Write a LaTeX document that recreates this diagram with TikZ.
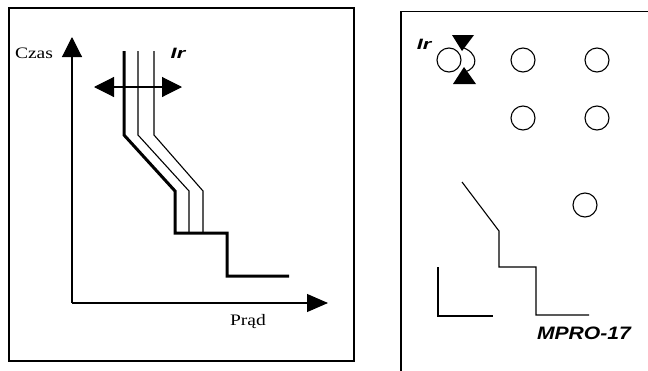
\documentclass[tikz,border=0pt]{standalone}
\usepackage{fontspec}
\setmainfont{Liberation Serif}
\newfontfamily\arialfont{Liberation Sans}
\usetikzlibrary{positioning}
\usetikzlibrary{arrows.meta}

\begin{document}
\begin{tikzpicture}[
          x=1pt, y=-1pt, % 1pt = 1 像素, y 向下
          thinline/.style={line width=1.1pt},
          curveline/.style={line width=3pt},
          boxline/.style={line width=1.6pt},
          bigtip/.style={-{Triangle[length=20pt,width=20pt]}},
          twotip/.style={{Triangle[length=20pt,width=20pt]}-{Triangle[length=20pt,width=20pt]}},
          irlabel/.style={font=\arialfont\bfseries\itshape\fontsize{15}{17}\selectfont, inner sep=0pt, xscale=1.45, transform shape},
          axislabel/.style={font=\fontsize{16}{18}\selectfont, inner sep=0pt, xscale=1.22, transform shape},
          knob/.style={circle, draw, line width=1.1pt, minimum size=24pt, inner sep=0pt}
      ]
        \useasboundingbox (0,0) rectangle (648,370);
        % 左边的框
        \draw[boxline] (9,8) rectangle (354,361);
        % 坐标轴和标签
        \coordinate (orig) at (72,303);
        \coordinate (ytop) at (72,37);
        \coordinate (xend) at (328,303);
        \draw[thinline,bigtip] (orig) -- (ytop);
        \draw[thinline,-{Triangle[length=21pt,width=18pt]}] (orig) -- (xend);
        \node[axislabel] (czas) at (34,53) {Czas};
        \node[axislabel] (prad) at (248,322) {Prąd};
        % 粗的特性曲线
        \draw[curveline] (124,51) -- (124,135) -- (175,191) -- (175,233)
              -- (227,233) -- (227,276) -- (289,276);
        % 两条细的曲线
        \draw[thinline] (138,51) -- (138,135) -- (189,191) -- (189,233);
        \draw[thinline] (154,51) -- (154,135) -- (203,191) -- (203,233);
        % 双向箭头和 Ir
        \coordinate (ira) at (94,87);
        \coordinate (irb) at (182,87);
        \draw[thinline,twotip] (ira) -- (irb);
        \node[irlabel] (irleft) at (178,53) {Ir};
        % 右边的框 (下面和右面在图外)
        \draw[boxline] (401,372) -- (401,11.5) -- (650,11.5);
        % 旋钮
        \node[knob] (knobir) at (449,60) {};
        \node[knob] (knoba) at (523,60) {};
        \node[knob] (knobb) at (597,60) {};
        \node[knob] (knobc) at (523,118) {};
        \node[knob] (knobd) at (597,118) {};
        \node[knob] (knobe) at (585,205) {};
        \node[irlabel] (irright) at (424,44) {Ir};
        % 旋转的标记
        \fill (452,35) -- (474,35) -- (462,51) -- cycle;
        \fill (453,84) -- (476,84) -- (464,67) -- cycle;
        \draw[thinline] (461,47) .. controls (479,52) and (479,69) .. (464,72);
        % 小的特性曲线
        \draw[thinline] (462,182) -- (499,231) -- (499,267) -- (536,267)
              -- (536,315) -- (589,315);
        \draw[thinline] (438,267) -- (438,316) -- (493,316);
        \node[irlabel, font=\arialfont\bfseries\itshape\fontsize{18}{20}\selectfont, xscale=0.81] (mpro) at (584,333) {MPRO-17};
      \end{tikzpicture}
\end{document}
